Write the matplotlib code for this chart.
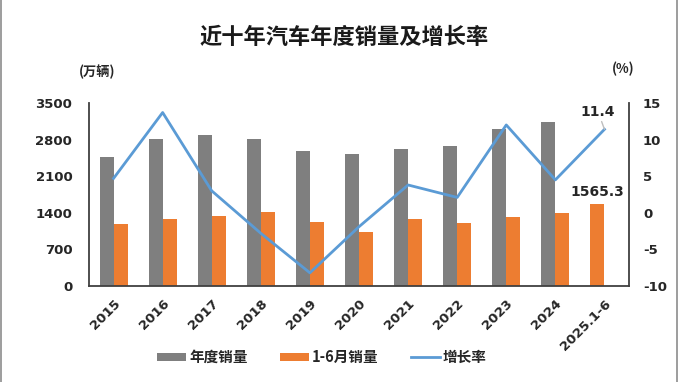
import matplotlib.pyplot as plt
import numpy as np
from matplotlib.lines import Line2D

plt.rcParams['font.family'] = ['DejaVu Sans', 'Noto Sans CJK SC']
plt.rcParams['axes.unicode_minus'] = False

# data
years = ['2015', '2016', '2017', '2018', '2019', '2020', '2021', '2022', '2023', '2024', '2025.1-6']
annual_sales = [2459.8, 2802.8, 2887.9, 2808.1, 2576.9, 2531.1, 2627.5, 2686.4, 3009.4, 3143.6, np.nan]
h1_sales = [1185.0, 1282.9, 1335.2, 1406.6, 1232.3, 1025.7, 1289.1, 1205.7, 1323.9, 1404.7, 1565.3]
growth = [4.7, 13.7, 3.0, -2.8, -8.2, -1.9, 3.8, 2.1, 12.0, 4.5, 11.4]

gray = '#7F7F7F'
orange = '#ED7D31'
blue = '#5B9BD5'
dark = '#404040'
txt = '#262626'

fig = plt.figure(figsize=(6.8, 3.82), dpi=100)
ax1 = fig.add_axes([89 / 680, 1 - 286 / 382, (629 - 89) / 680, (286 - 103) / 382])
ax2 = ax1.twinx()

x = np.arange(len(years))
w = 0.285
# where there is no annual value the half-year bar takes the left slot
h1_off = np.where(np.isnan(annual_sales), -w / 2, w / 2)
b1 = ax1.bar(x - w / 2, annual_sales, width=w, color=gray, label='年度销量')
b2 = ax1.bar(x + h1_off, h1_sales, width=w, color=orange, label='1-6月销量')
l1, = ax2.plot(x, growth, color=blue, linewidth=2.0, label='增长率')

ax1.set_xlim(-0.5, len(years) - 0.5)
ax1.set_ylim(0, 3500)
ax1.set_yticks(np.arange(0, 3501, 700))
ax2.set_ylim(-10, 15)
ax2.set_yticks(np.arange(-10, 16, 5))

ax1.set_xticks(x)
ax1.set_xticklabels(years, rotation=45, ha='right', rotation_mode='anchor')

for ax in (ax1, ax2):
    ax.tick_params(length=0, labelsize=9.5, labelcolor=txt)
    for s in ax.spines.values():
        s.set_visible(False)
ax1.tick_params(axis='x', pad=8)
ax1.tick_params(axis='y', pad=12)
ax2.tick_params(axis='y', pad=10)
for lab in ax1.get_xticklabels() + ax1.get_yticklabels() + ax2.get_yticklabels():
    lab.set_fontweight('bold')

ax1.spines['left'].set_visible(True)
ax1.spines['bottom'].set_visible(True)
ax2.spines['right'].set_visible(True)
for s in (ax1.spines['left'], ax1.spines['bottom'], ax2.spines['right']):
    s.set_color(dark)
    s.set_linewidth(1.3)

# annotations
ax2.annotate(f'{growth[-1]:.1f}', xy=(x[-1], growth[-1]), xytext=(x[-1] - 0.13, growth[-1] + 2.4),
             ha='center', va='center', fontsize=10, fontweight='bold', color=txt,
             arrowprops=dict(arrowstyle='-', color='#BFBFBF', linewidth=1.0, shrinkA=6, shrinkB=0))
ax1.annotate(f'{h1_sales[-1]:.1f}', xy=(x[-1] + h1_off[-1], h1_sales[-1]), xytext=(0, 4),
             textcoords='offset points', ha='center', va='bottom',
             fontsize=10, fontweight='bold', color=txt)

fig.text(344 / 680, 1 - 37 / 382, '近十年汽车年度销量及增长率', ha='center', va='center',
         fontsize=16, fontweight='bold', color='#1a1a1a', family=['Noto Sans CJK SC', 'DejaVu Sans'])
fig.text(97 / 680, 1 - 72 / 382, '(万辆)', ha='center', va='center', fontsize=9.5,
         fontweight='bold', color=txt, family=['Noto Sans CJK SC', 'DejaVu Sans'])
fig.text(623 / 680, 1 - 69 / 382, '(%)', ha='center', va='center', fontsize=9.5,
         fontweight='bold', color=txt, family=['Noto Sans CJK SC', 'DejaVu Sans'])

leg = fig.legend(handles=[b1, b2, l1], loc='center', bbox_to_anchor=(322 / 680, 1 - 357 / 382),
                 ncol=3, frameon=False, handlelength=2.0, handleheight=0.5, handletextpad=0.2,
                 columnspacing=2.2, prop={'family': ['Noto Sans CJK SC'], 'weight': 'bold', 'size': 10.5})
for t in leg.get_texts():
    t.set_color(txt)

# thin border lines on the sides
fig.add_artist(Line2D([0.002, 0.002], [0, 1], transform=fig.transFigure, color='#8C8C8C', linewidth=1.2))
fig.add_artist(Line2D([0.996, 0.996], [0, 1], transform=fig.transFigure, color='#8C8C8C', linewidth=1.2))

fig.savefig('out.png', dpi=100)
